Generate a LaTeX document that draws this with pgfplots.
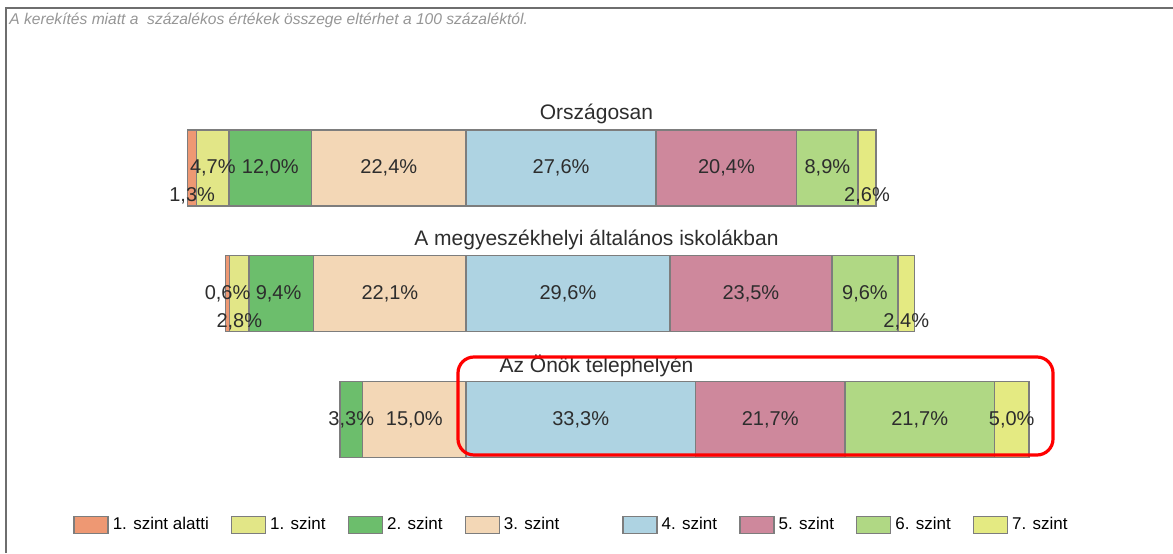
\documentclass[border=0pt]{standalone}
\usepackage{pgfplots}
\pgfplotsset{compat=1.18}
\usepackage{fontspec}
\setmainfont{Liberation Sans}
\definecolor{lvA}{RGB}{238,152,115}
\definecolor{lvB}{RGB}{226,230,135}
\definecolor{lvC}{RGB}{108,190,108}
\definecolor{lvD}{RGB}{243,215,182}
\definecolor{lvE}{RGB}{174,211,226}
\definecolor{lvF}{RGB}{206,136,156}
\definecolor{lvG}{RGB}{176,216,132}
\definecolor{lvH}{RGB}{228,234,130}
\definecolor{segline}{RGB}{125,125,125}
\definecolor{lbltext}{RGB}{45,45,45}
\definecolor{boxline}{RGB}{110,110,110}
\tikzset{
  rowtitle/.style={font=\fontsize{10.5}{12}\selectfont, text=lbltext},
  vallbl/.style={font=\fontsize{10}{12}\selectfont, text=lbltext, inner sep=0pt},
}
% same geometry for the bar axis and the label overlay
\pgfplotsset{rowaxis/.style={
    at={(60.75pt,35.3pt)}, anchor=south west,
    scale only axis, width=482.3pt, height=188.65pt,
    xmin=0, xmax=140, ymin=-0.5, ymax=2.5,
    hide axis, clip=false,
}}

\begin{document}
\begin{tikzpicture}
% 1 px of the reference = 0.5pt
\begin{axis}[
    rowaxis,
    xbar stacked, bar width=38pt,
    legend style={at={(-0.0503,-0.113)}, anchor=west, draw=none, fill=none,
        legend columns=8, font=\fontsize{8.5}{10}\selectfont, inner sep=0pt,
        /tikz/every even column/.append style={column sep=9pt}},
    legend cell align=left,
    legend image code/.code={\draw[#1] (0pt,-4.25pt) rectangle (17pt,4.25pt);},
]
% invisible offset so that every bar is centred on the 3./4. szint boundary (x=50)
\addplot[draw=none, fill=none, forget plot] coordinates {(9.6,2) (15.1,1) (31.7,0)};
\addplot[fill=lvA, draw=segline, line width=0.7pt] coordinates {(1.3,2) (0.6,1) (0,0)};
\addlegendentry{1. szint alatti}
\addplot[fill=lvB, draw=segline, line width=0.7pt] coordinates {(4.7,2) (2.8,1) (0,0)};
\addlegendentry{1. szint}
\addplot[fill=lvC, draw=segline, line width=0.7pt] coordinates {(12.0,2) (9.4,1) (3.3,0)};
\addlegendentry{2. szint}
\addplot[fill=lvD, draw=segline, line width=0.7pt] coordinates {(22.4,2) (22.1,1) (15.0,0)};
\addlegendentry{3. szint\rule{20.5pt}{0pt}}
\addplot[fill=lvE, draw=segline, line width=0.7pt] coordinates {(27.6,2) (29.6,1) (33.3,0)};
\addlegendentry{4. szint}
\addplot[fill=lvF, draw=segline, line width=0.7pt] coordinates {(20.4,2) (23.5,1) (21.7,0)};
\addlegendentry{5. szint}
\addplot[fill=lvG, draw=segline, line width=0.7pt] coordinates {(8.9,2) (9.6,1) (21.7,0)};
\addlegendentry{6. szint}
\addplot[fill=lvH, draw=segline, line width=0.7pt] coordinates {(2.6,2) (2.4,1) (5.0,0)};
\addlegendentry{7. szint}
\end{axis}

% overlay axis: titles and value labels drawn on top of the bars
\begin{axis}[rowaxis]
\node[rowtitle] at (axis cs:68.94,2.43) {Országosan};
\node[rowtitle] at (axis cs:68.94,1.43) {A megyeszékhelyi általános iskolákban};
\node[rowtitle] at (axis cs:68.94,0.43) {Az Önök telephelyén};

\node[vallbl] at (axis cs:10.25,1.78) {1,3\%};
\node[vallbl] at (axis cs:13.25,2) {4,7\%};
\node[vallbl] at (axis cs:21.6,2) {12,0\%};
\node[vallbl] at (axis cs:38.8,2) {22,4\%};
\node[vallbl] at (axis cs:63.8,2) {27,6\%};
\node[vallbl] at (axis cs:87.8,2) {20,4\%};
\node[vallbl] at (axis cs:102.45,2) {8,9\%};
\node[vallbl] at (axis cs:108.2,1.78) {2,6\%};

\node[vallbl] at (axis cs:15.4,1) {0,6\%};
\node[vallbl] at (axis cs:17.1,0.78) {2,8\%};
\node[vallbl] at (axis cs:22.8,1) {9,4\%};
\node[vallbl] at (axis cs:38.95,1) {22,1\%};
\node[vallbl] at (axis cs:64.8,1) {29,6\%};
\node[vallbl] at (axis cs:91.35,1) {23,5\%};
\node[vallbl] at (axis cs:107.9,1) {9,6\%};
\node[vallbl] at (axis cs:113.9,0.78) {2,4\%};

\node[vallbl] at (axis cs:33.35,0) {3,3\%};
\node[vallbl] at (axis cs:42.5,0) {15,0\%};
\node[vallbl] at (axis cs:66.65,0) {33,3\%};
\node[vallbl] at (axis cs:94.15,0) {21,7\%};
\node[vallbl] at (axis cs:115.85,0) {21,7\%};
\node[vallbl] at (axis cs:129.2,0) {5,0\%};
\end{axis}

% frame, note and highlight box (0.5pt per reference pixel, y up)
\draw[boxline, line width=1pt] (3pt,0pt) -- (3pt,272.5pt) -- (586.5pt,272.5pt);
\node[anchor=west, inner sep=0pt, text={rgb,255:red,150;green,150;blue,150},
      font=\fontsize{7.8}{9}\selectfont\itshape] at (4.5pt,266.5pt)
      {A kerekítés miatt a\ \ százalékos értékek összege eltérhet a 100 százaléktól.};
\draw[red, line width=1.6pt, rounded corners=8pt] (229pt,98pt) rectangle (526.5pt,49pt);

\pgfresetboundingbox
\path (0,0) rectangle (586.5pt,276.5pt);
\end{tikzpicture}
\end{document}
